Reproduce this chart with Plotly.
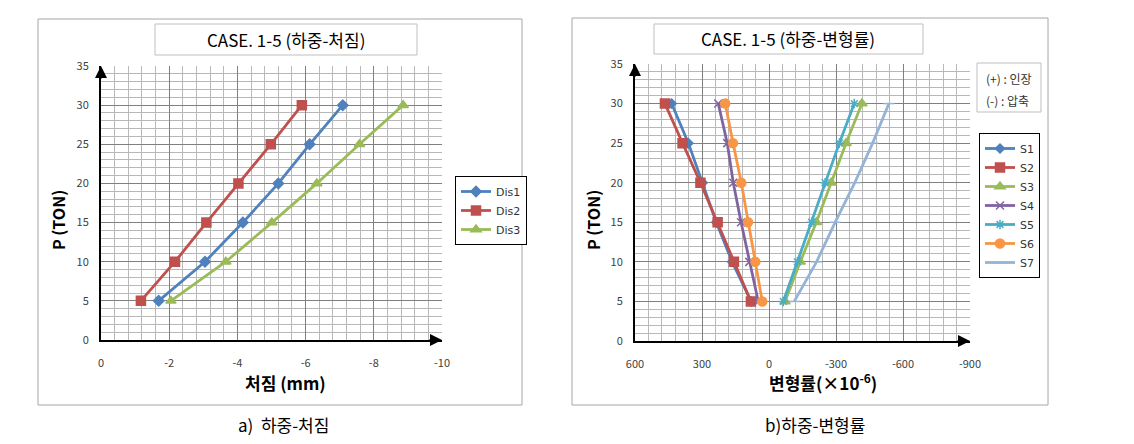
import plotly.graph_objects as go

# ---------------- data ----------------
load = [5, 10, 15, 20, 25, 30]

dis1 = [-1.69, -3.05, -4.16, -5.20, -6.12, -7.09]
dis2 = [-1.17, -2.17, -3.09, -4.03, -4.98, -5.89]
dis3 = [-2.05, -3.66, -5.01, -6.33, -7.58, -8.86]

s1 = [80, 165, 236, 297, 361, 436]
s2 = [81, 157, 230, 307, 387, 466]
s3 = [-72, -140, -212, -278, -345, -416]
s4 = [48, 88, 125, 160, 187, 227]
s5 = [-64, -127, -191, -251, -315, -382]
s6 = [30, 61, 94, 124, 161, 196]
s7 = [-113, -213, -296, -384, -464, -537]

x1_ticks = [0, -2, -4, -6, -8, -10]
x2_ticks = [600, 300, 0, -300, -600, -900]
y_ticks = [0, 5, 10, 15, 20, 25, 30, 35]

W, H = 1134, 444
def px(x): return x / W
def py(y): return 1 - y / H

BLUE, RED, GREEN = "#4F81BD", "#C0504D", "#9BBB59"
PURPLE, TEAL, ORANGE, LBLUE = "#8064A2", "#4BACC6", "#F79646", "#95B3D7"
FONT = "Noto Sans CJK KR"

fig = go.Figure()

def add(x, y, name, color, symbol, size, xa, ya, legend, lw=2.8):
    fig.add_trace(go.Scatter(
        x=x, y=y, name=name, mode="lines+markers",
        line=dict(color=color, width=lw),
        marker=dict(symbol=symbol, size=size, color=color,
                    line=dict(color=color, width=1.5)),
        xaxis=xa, yaxis=ya, legend=legend))

add(dis1, load, "Dis1", BLUE, "diamond", 8, "x", "y", "legend")
add(dis2, load, "Dis2", RED, "square", 9, "x", "y", "legend")
add(dis3, load, "Dis3", GREEN, "triangle-up", 9, "x", "y", "legend")

add(s1, load, "S1", BLUE, "diamond", 7, "x2", "y2", "legend2")
add(s2, load, "S2", RED, "square", 9, "x2", "y2", "legend2")
add(s3, load, "S3", GREEN, "triangle-up", 9, "x2", "y2", "legend2")
add(s4, load, "S4", PURPLE, "x-thin", 8, "x2", "y2", "legend2")
add(s5, load, "S5", TEAL, "asterisk", 8, "x2", "y2", "legend2")
add(s6, load, "S6", ORANGE, "circle", 9, "x2", "y2", "legend2")
add(s7, load, "S7", LBLUE, "line-ew", 8, "x2", "y2", "legend2")

tickfont = dict(family=FONT, size=11, color="#404040")
MAJOR, MINOR = "#808080", "#b8b8b8"

def xax(domain, rng, ticks, minor):
    return dict(domain=domain, range=rng, tickvals=ticks, ticktext=[str(t) for t in ticks],
                showgrid=True, gridcolor=MAJOR, gridwidth=1,
                minor=dict(dtick=minor, tick0=0, showgrid=True, gridcolor=MINOR, gridwidth=1),
                showline=True, linecolor="black", linewidth=2, zeroline=False,
                ticks="", tickfont=tickfont, ticklabelstandoff=12, fixedrange=True)

def yax(domain, anchor):
    return dict(domain=domain, range=[0, 35], tickvals=y_ticks, anchor=anchor,
                showgrid=True, gridcolor=MAJOR, gridwidth=1,
                minor=dict(dtick=1, tick0=0, showgrid=True, gridcolor=MINOR, gridwidth=1),
                showline=True, linecolor="black", linewidth=2, zeroline=False,
                ticks="", tickfont=tickfont, ticklabelstandoff=8, fixedrange=True)

legend_common = dict(bgcolor="white", bordercolor="black", borderwidth=1,
                     font=dict(family="DejaVu Sans", size=11, color="#333333"),
                     xanchor="left", yanchor="top", itemwidth=30, tracegroupgap=0)

fig.update_layout(
    width=W, height=H, margin=dict(l=0, r=0, t=0, b=0, autoexpand=False),
    paper_bgcolor="white", plot_bgcolor="white",
    xaxis=xax([px(101), px(442)], [0, -10], x1_ticks, 0.4) | dict(anchor="y"),
    yaxis=yax([py(340), py(66)], "x"),
    xaxis2=xax([px(635), px(970)], [600, -900], x2_ticks, 60) | dict(anchor="y2"),
    yaxis2=yax([py(341), py(64)], "x2"),
    legend=legend_common | dict(x=px(455), y=py(176)),
    legend2=legend_common | dict(x=px(979), y=py(133)),
    showlegend=True,
)

shapes = []
annotations = []

def note(text, x, y, size, color="black", family=FONT, angle=0, xanchor="center"):
    annotations.append(dict(text=text, xref="paper", yref="paper", x=px(x), y=py(y),
                            xanchor=xanchor, yanchor="middle", showarrow=False, textangle=angle,
                            font=dict(family=family, size=size, color=color)))

# panel borders
for x0, x1, y0, y1 in [(38, 522, 19, 405), (572, 1048, 18, 405)]:
    shapes.append(dict(type="rect", xref="paper", yref="paper",
                       x0=px(x0), x1=px(x1), y0=py(y1), y1=py(y0),
                       line=dict(color="#a6a6a6", width=1)))
# title boxes
for x0, x1, y0, y1, text in [(155, 417, 24, 55, "CASE. 1-5 (하중-처짐)"),
                             (654, 923, 24, 54, "CASE. 1-5 (하중-변형률)")]:
    shapes.append(dict(type="rect", xref="paper", yref="paper",
                       x0=px(x0), x1=px(x1), y0=py(y1), y1=py(y0),
                       line=dict(color="#bfbfbf", width=1)))
    note(text, (x0 + x1) / 2, (y0 + y1) / 2, 17)

# note box
shapes.append(dict(type="rect", xref="paper", yref="paper",
                   x0=px(977), x1=px(1041), y0=py(112), y1=py(63),
                   line=dict(color="#bfbfbf", width=1)))
note("(+) : 인장", 984, 79, 12, "#333333", xanchor="left")
note("(-) : 압축", 984, 100, 12, "#333333", xanchor="left")

# axis titles and captions
note("<b>처짐 (mm)</b>", 285, 382, 17)
note("<b>P (TON)</b>", 58, 220, 16, angle=-90)
note("<b>변형률(×10<sup>-6</sup>)</b>", 823, 382, 17)
note("<b>P (TON)</b>", 593, 220, 16, angle=-90)
note("a)  하중-처짐", 283, 424, 17)
note("b)하중-변형률", 815, 424, 17)

# axis arrows
for xr, yr in [("x", "y"), ("x2", "y2")]:
    annotations.append(dict(xref=f"{xr} domain", yref=f"{yr} domain", x=0, y=1.0,
                            ax=0, ay=14, text="", showarrow=True,
                            arrowhead=2, arrowsize=1.2, arrowwidth=2, arrowcolor="black"))
    annotations.append(dict(xref=f"{xr} domain", yref=f"{yr} domain", x=1.0, y=0,
                            ax=-14, ay=0, text="", showarrow=True,
                            arrowhead=2, arrowsize=1.2, arrowwidth=2, arrowcolor="black"))

fig.update_layout(shapes=shapes, annotations=annotations)
fig.write_html("out.html")
